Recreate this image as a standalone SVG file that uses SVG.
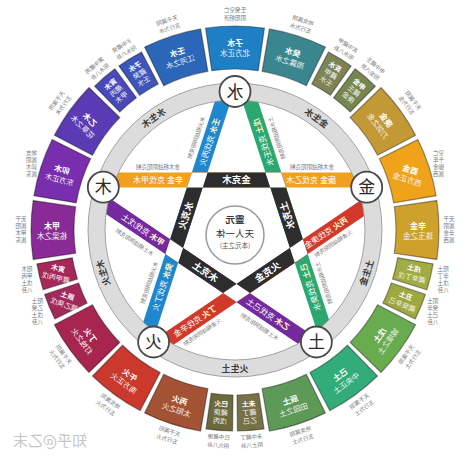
<svg xmlns="http://www.w3.org/2000/svg" width="474" height="459" viewBox="0 0 474 459">
<style>
text{font-family:"Noto Sans CJK SC","Noto Sans",sans-serif;text-anchor:middle}
use{stroke:rgba(0,0,0,.38);stroke-width:1.2}
.st{font-size:8px;font-weight:700;fill:#fff}
.ss{font-size:7.5px;fill:#f3f3f3}
.sm{font-size:7px;fill:#f3f3f3}
.smb{font-size:7px;font-weight:700;fill:#fff}
.an{font-size:5.6px;fill:#7a7a7a}
.bt{font-size:8px;fill:#fff}
.bb{font-weight:700;fill:#fff3c4}
.ba{font-size:5.5px;fill:#777}
.kt{font-size:9.5px;font-weight:700;fill:#fff}
.rl{font-size:9px;font-weight:700;fill:#3c3c3c}
.nd{font-size:17px;fill:#2a2a2a}
.band{stroke-width:15;fill:none}
</style>
<defs>
<path id="L" d="M205.54,28.14 A204,204 0 0 1 264.46,28.14 L258.25,70.69 A161,161 0 0 0 211.75,70.69 Z"/>
<path id="S" d="M221.68,29.44 A201,201 0 0 1 248.32,29.44 L245.93,65.36 A165,165 0 0 0 224.07,65.36 Z"/>
</defs>
<rect width="474" height="459" fill="#fff"/>

<g id="segments">
<g id="seg342" transform="rotate(342 235 230)"><use href="#L" fill="#2b66b9"/><g transform="translate(235 47) scale(-1 1)"><text class="st" y="-1">壬水</text><text class="ss" y="9">江河之水</text></g><g transform="translate(235 14) scale(-1 1)"><text class="an" y="-2.3">天干属阳</text><text class="an" y="6">五行为水</text></g></g>
<g id="seg0" transform="rotate(0 235 230)"><use href="#L" fill="#1f7fc4"/><g transform="translate(235 47) scale(-1 1)"><text class="st" y="-1">子水</text><text class="ss" y="9">北方正水</text></g><g transform="translate(235 14) scale(-1 1)"><text class="an" y="-2.3">壬癸空亡</text><text class="an" y="6">阴阳相济</text></g></g>
<g id="seg18" transform="rotate(18 235 230)"><use href="#L" fill="#3a868e"/><g transform="translate(235 47) scale(-1 1)"><text class="st" y="-1">癸水</text><text class="ss" y="9">雨露之水</text></g><g transform="translate(235 14) scale(-1 1)"><text class="an" y="-2.3">地支属阴</text><text class="an" y="6">五行为水</text></g></g>
<g id="seg31" transform="rotate(31.5 235 230)"><use href="#S" fill="#7c8456"/><g transform="translate(235 47) scale(-1 1)"><text class="smb" y="-6">亥水</text><text class="sm" y="2.5">藏甲</text><text class="sm" y="11">壬水</text></g><g transform="translate(235 18) scale(-1 1)"><text class="an" y="-2.3">亥中藏甲</text><text class="an" y="6">阳水八卦</text></g></g>
<g id="seg40" transform="rotate(40.5 235 230)"><use href="#S" fill="#77854f"/><g transform="translate(235 47) scale(-1 1)"><text class="smb" y="-6">申金</text><text class="sm" y="2.5">藏壬</text><text class="sm" y="11">庚金</text></g><g transform="translate(235 18) scale(-1 1)"><text class="an" y="-2.3">申中藏壬</text><text class="an" y="6">阳金八卦</text></g></g>
<g id="seg54" transform="rotate(54 235 230)"><use href="#L" fill="#c29935"/><g transform="translate(235 47) scale(-1 1)"><text class="st" y="-1">庚金</text><text class="ss" y="9">刀剑之金</text></g><g transform="translate(235 14) scale(-1 1)"><text class="an" y="-2.3">天干属阳</text><text class="an" y="6">五行为金</text></g></g>
<g id="seg72" transform="rotate(72 235 230)"><use href="#L" fill="#efa31b"/><g transform="translate(235 47) rotate(-54) scale(-1 1)"><text class="st" y="-1">酉金</text><text class="ss" y="9">西方正金</text></g><g transform="translate(235 16) rotate(-72) scale(-1 1)"><text class="an" y="-9">空亡</text><text class="an" y="-2">千年</text><text class="an" y="5">御金</text><text class="an" y="12">属西</text></g></g>
<g id="seg90" transform="rotate(90 235 230)"><use href="#L" fill="#cea12c"/><g transform="translate(235 47) rotate(-90) scale(-1 1)"><text class="st" y="-1">辛金</text><text class="ss" y="9">珠玉之金</text></g><g transform="translate(235 16) rotate(-90) scale(-1 1)"><text class="an" y="-9">天干</text><text class="an" y="-2">属阴</text><text class="an" y="5">辛金</text><text class="an" y="12">属西</text></g></g>
<g id="seg103" transform="rotate(103.5 235 230)"><use href="#S" fill="#a1ac44"/><g transform="translate(235 47) rotate(-90) scale(-1 1)"><text class="smb" y="-2">戌土</text><text class="sm" y="7.5">藏辛丁戊</text></g><g transform="translate(235 16) rotate(-103.5) scale(-1 1)"><text class="an" y="-9">阳土</text><text class="an" y="-2">辛丁</text><text class="an" y="5">戊土</text><text class="an" y="12">八卦</text></g></g>
<g id="seg112" transform="rotate(112.5 235 230)"><use href="#S" fill="#9da83f"/><g transform="translate(235 47) rotate(-90) scale(-1 1)"><text class="smb" y="-2">丑土</text><text class="sm" y="7.5">藏癸辛己</text></g><g transform="translate(235 16) rotate(-112.5) scale(-1 1)"><text class="an" y="-9">阴土</text><text class="an" y="-2">癸辛</text><text class="an" y="5">己土</text><text class="an" y="12">八卦</text></g></g>
<g id="seg126" transform="rotate(126 235 230)"><use href="#L" fill="#69ab4f"/><g transform="translate(235 47) rotate(-180) scale(-1 1)"><text class="st" y="-1">戊土</text><text class="ss" y="9">城墙之土</text></g><g transform="translate(235 14) rotate(-180) scale(-1 1)"><text class="an" y="-2.3">天干属阳</text><text class="an" y="6">五行为土</text></g></g>
<g id="seg144" transform="rotate(144 235 230)"><use href="#L" fill="#32ad7a"/><g transform="translate(235 47) rotate(-180) scale(-1 1)"><text class="st" y="-1">己土</text><text class="ss" y="9">中央正土</text></g><g transform="translate(235 14) rotate(-180) scale(-1 1)"><text class="an" y="-2.3">天干属阴</text><text class="an" y="6">五行为土</text></g></g>
<g id="seg162" transform="rotate(162 235 230)"><use href="#L" fill="#5d9957"/><g transform="translate(235 47) rotate(-180) scale(-1 1)"><text class="st" y="-1">辰土</text><text class="ss" y="9">田园之土</text></g><g transform="translate(235 14) rotate(-180) scale(-1 1)"><text class="an" y="-2.3">地支属阳</text><text class="an" y="6">五行为土</text></g></g>
<g id="seg175" transform="rotate(175.5 235 230)"><use href="#S" fill="#777148"/><g transform="translate(235 47) rotate(-180) scale(-1 1)"><text class="smb" y="-6">未土</text><text class="sm" y="2.5">藏丁</text><text class="sm" y="11">乙己</text></g><g transform="translate(235 18) rotate(-180) scale(-1 1)"><text class="an" y="-2.3">未中藏丁</text><text class="an" y="6">阴土八卦</text></g></g>
<g id="seg184" transform="rotate(184.5 235 230)"><use href="#S" fill="#6c6a3c"/><g transform="translate(235 47) rotate(-180) scale(-1 1)"><text class="smb" y="-6">巳火</text><text class="sm" y="2.5">藏庚</text><text class="sm" y="11">戊丙</text></g><g transform="translate(235 18) rotate(-180) scale(-1 1)"><text class="an" y="-2.3">巳中藏庚</text><text class="an" y="6">阴火八卦</text></g></g>
<g id="seg198" transform="rotate(198 235 230)"><use href="#L" fill="#a35333"/><g transform="translate(235 47) rotate(-180) scale(-1 1)"><text class="st" y="-1">丙火</text><text class="ss" y="9">太阳之火</text></g><g transform="translate(235 14) rotate(-180) scale(-1 1)"><text class="an" y="-2.3">天干属阳</text><text class="an" y="6">五行为火</text></g></g>
<g id="seg216" transform="rotate(216 235 230)"><use href="#L" fill="#ca392c"/><g transform="translate(235 47) rotate(-180) scale(-1 1)"><text class="st" y="-1">午火</text><text class="ss" y="9">南方正火</text></g><g transform="translate(235 14) rotate(-180) scale(-1 1)"><text class="an" y="-2.3">地支属阳</text><text class="an" y="6">五行为火</text></g></g>
<g id="seg234" transform="rotate(234 235 230)"><use href="#L" fill="#a7254e"/><g transform="translate(235 47) rotate(-180) scale(-1 1)"><text class="st" y="-1">丁火</text><text class="ss" y="9">灯烛之火</text></g><g transform="translate(235 14) rotate(-180) scale(-1 1)"><text class="an" y="-2.3">天干属阴</text><text class="an" y="6">五行为火</text></g></g>
<g id="seg247" transform="rotate(247.5 235 230)"><use href="#S" fill="#a4295b"/><g transform="translate(235 47) rotate(-227.5) scale(-1 1)"><text class="smb" y="-2">辰土</text><text class="sm" y="7.5">藏乙癸戊</text></g><g transform="translate(235 16) rotate(-247.5) scale(-1 1)"><text class="an" y="-9">阳土</text><text class="an" y="-2">乙癸</text><text class="an" y="5">戊土</text><text class="an" y="12">八卦</text></g></g>
<g id="seg256" transform="rotate(256.5 235 230)"><use href="#S" fill="#a62859"/><g transform="translate(235 47) rotate(-243) scale(-1 1)"><text class="smb" y="-2">寅木</text><text class="sm" y="7.5">藏甲丙戊</text></g><g transform="translate(235 16) rotate(-256.5) scale(-1 1)"><text class="an" y="-9">阳木</text><text class="an" y="-2">甲丙</text><text class="an" y="5">戊土</text><text class="an" y="12">八卦</text></g></g>
<g id="seg270" transform="rotate(270 235 230)"><use href="#L" fill="#892a96"/><g transform="translate(235 47) rotate(-270) scale(-1 1)"><text class="st" y="-1">甲木</text><text class="ss" y="9">栋梁之木</text></g><g transform="translate(235 16) rotate(-270) scale(-1 1)"><text class="an" y="-9">天干</text><text class="an" y="-2">属阳</text><text class="an" y="5">甲木</text><text class="an" y="12">属东</text></g></g>
<g id="seg288" transform="rotate(288 235 230)"><use href="#L" fill="#792fad"/><g transform="translate(235 47) rotate(-273) scale(-1 1)"><text class="st" y="-1">卯木</text><text class="ss" y="9">东方正木</text></g><g transform="translate(235 16) rotate(-288) scale(-1 1)"><text class="an" y="-9">地支</text><text class="an" y="-2">属阴</text><text class="an" y="5">卯木</text><text class="an" y="12">属东</text></g></g>
<g id="seg306" transform="rotate(306 235 230)"><use href="#L" fill="#5a3bb4"/><g transform="translate(235 47) rotate(-261) scale(-1 1)"><text class="st" y="-1">乙木</text><text class="ss" y="9">花草之木</text></g><g transform="translate(235 14) scale(-1 1)"><text class="an" y="-2.3">天干属阴</text><text class="an" y="6">五行为木</text></g></g>
<g id="seg319" transform="rotate(319.5 235 230)"><use href="#S" fill="#4949ba"/><g transform="translate(235 47) scale(-1 1)"><text class="smb" y="-6">寅木</text><text class="sm" y="2.5">藏丙</text><text class="sm" y="11">甲木</text></g><g transform="translate(235 18) scale(-1 1)"><text class="an" y="-2.3">寅中藏丙</text><text class="an" y="6">阳木八卦</text></g></g>
<g id="seg328" transform="rotate(328.5 235 230)"><use href="#S" fill="#3e56bb"/><g transform="translate(235 47) scale(-1 1)"><text class="smb" y="-6">子水</text><text class="sm" y="2.5">藏癸</text><text class="sm" y="11">壬水</text></g><g transform="translate(235 18) scale(-1 1)"><text class="an" y="-2.3">子中藏癸</text><text class="an" y="6">阳水八卦</text></g></g>
</g>

<g id="connectors">
<line class="band" x1="226.7" y1="89.3" x2="145.4" y2="339.5" stroke="#1e87cf"/>
<line class="band" x1="246" y1="88.4" x2="327.4" y2="338.9" stroke="#2aa86f"/>
<line class="band" x1="103" y1="180" x2="366" y2="180" stroke="#f0a01e"/>
<line class="band" x1="96.55" y1="198.5" x2="315.1" y2="346.2" stroke="#74299f"/>
<line class="band" x1="371.1" y1="202.2" x2="156.5" y2="347.2" stroke="#d13a2a"/>
<polygon class="band" points="197.3,180 275.7,180 298.8,251 236.5,293 174.2,251" stroke="#2d2d2d" stroke-linejoin="miter"/>
<g fill="#fff">
<polygon points="202.75,187.5 207.62,172.5 191.85,172.5 186.98,187.5"/>
<polygon points="286.02,187.5 281.15,172.5 265.38,172.5 270.25,187.5"/>
<polygon points="178.26,262.79 165.32,254.05 170.15,239.21 183.08,247.95"/>
<polygon points="294.75,262.79 307.67,254.05 302.85,239.21 289.93,247.95"/>
<polygon points="236.5,302.06 249.9,293 236.5,283.94 223.1,293"/>
</g>
<g id="band-labels">
<text class="bt" transform="translate(158 180) scale(-1 1)" y="2.9"><tspan class="bb">辛金</tspan> 克伐甲木</text>
<text class="bt" transform="translate(311 180) scale(-1 1)" y="2.9"><tspan class="bb">庚金</tspan> 克伐乙木</text>
<text class="bt" transform="translate(209.6 142) rotate(-72) scale(-1 1)" y="2.9"><tspan class="bb">壬水</tspan> 克伐丙火</text>
<text class="bt" transform="translate(162.5 287) rotate(-72) scale(-1 1)" y="2.9"><tspan class="bb">癸水</tspan> 克伐丁火</text>
<text class="bt" transform="translate(263.4 142) rotate(-108) scale(-1 1)" y="2.9"><tspan class="bb">戊土</tspan> 克伐壬水</text>
<text class="bt" transform="translate(310.5 287) rotate(-108) scale(-1 1)" y="2.9"><tspan class="bb">己土</tspan> 克伐癸水</text>
<text class="bt" transform="translate(143 229.9) rotate(34) scale(-1 1)" y="2.9"><tspan class="bb">甲木</tspan> 克伐戊土</text>
<text class="bt" transform="translate(268 314.4) rotate(34) scale(-1 1)" y="2.9"><tspan class="bb">乙木</tspan> 克伐己土</text>
<text class="bt" transform="translate(326 232.7) rotate(-34) scale(-1 1)" y="2.9"><tspan class="bb">丙火</tspan> 克伐庚金</text>
<text class="bt" transform="translate(195 321.2) rotate(-34) scale(-1 1)" y="2.9"><tspan class="bb">丁火</tspan> 克伐辛金</text>
<text class="ba" transform="translate(158 167) scale(-1 1)" y="2">金木相战阴阳克制</text>
<text class="ba" transform="translate(312 167) scale(-1 1)" y="2">金木相战阴阳克制</text>
<text class="ba" transform="translate(196.3 137.7) rotate(-72) scale(-1 1)" y="2">水火相战阴阳克制</text>
<text class="ba" transform="translate(149.2 282.7) rotate(-72) scale(-1 1)" y="2">水火相战阴阳克制</text>
<text class="ba" transform="translate(276.7 137.7) rotate(-108) scale(-1 1)" y="2">土水相战阴阳克制</text>
<text class="ba" transform="translate(323.8 282.7) rotate(-108) scale(-1 1)" y="2">土水相战阴阳克制</text>
<text class="ba" transform="translate(134.6 242.3) rotate(34) scale(-1 1)" y="2">木土相战阴阳克制</text>
<text class="ba" transform="translate(259.6 326.8) rotate(34) scale(-1 1)" y="2">木土相战阴阳克制</text>
<text class="ba" transform="translate(333.3 243.5) rotate(-34) scale(-1 1)" y="2">火金相战阴阳克制</text>
<text class="ba" transform="translate(202.3 332) rotate(-34) scale(-1 1)" y="2">火金相战阴阳克制</text>
<text class="kt" transform="translate(236.5 180) scale(-1 1)" y="3.4">金克木</text>
<text class="kt" transform="translate(287.25 215.5) rotate(-108) scale(-1 1)" y="3.4">土克水</text>
<text class="kt" transform="translate(267.65 272) rotate(-34) scale(-1 1)" y="3.4">火克金</text>
<text class="kt" transform="translate(205.35 272) rotate(34) scale(-1 1)" y="3.4">木克土</text>
<text class="kt" transform="translate(185.75 215.5) rotate(-72) scale(-1 1)" y="3.4">水克火</text>
</g>
</g>

<g id="ring">
<circle cx="235" cy="230" r="138.5" fill="none" stroke="#dcdcdc" stroke-width="17"/>
<circle cx="235" cy="230" r="147" fill="none" stroke="#9a9a9a" stroke-width="0.9"/>
<circle cx="235" cy="230" r="130" fill="none" stroke="#9a9a9a" stroke-width="0.9"/>
<text class="rl" transform="translate(153.6 117.95) rotate(-36) scale(-1 1)" y="3.2">水生木</text>
<text class="rl" transform="translate(316.4 117.95) rotate(36) scale(-1 1)" y="3.2">金生水</text>
<text class="rl" transform="translate(366.7 272.8) rotate(-72) scale(-1 1)" y="3.2">土生金</text>
<text class="rl" transform="translate(235 368.5) scale(-1 1)" y="3.2">火生土</text>
<text class="rl" transform="translate(103.3 272.8) rotate(-108) scale(-1 1)" y="3.2">木生火</text>
</g>

<g id="node-water"><circle cx="235" cy="91.5" r="15.5" fill="#fff" stroke="#4a4a4a" stroke-width="1.8"/><text class="nd" transform="translate(235 91.5) scale(-1 1)" y="6">水</text></g>
<g id="node-metal"><circle cx="366.7" cy="187.2" r="15.5" fill="#fff" stroke="#4a4a4a" stroke-width="1.8"/><text class="nd" transform="translate(366.7 187.2) scale(-1 1)" y="6">金</text></g>
<g id="node-earth"><circle cx="316.4" cy="342" r="15.5" fill="#fff" stroke="#4a4a4a" stroke-width="1.8"/><text class="nd" transform="translate(316.4 342) scale(-1 1)" y="6">土</text></g>
<g id="node-fire"><circle cx="153.6" cy="342" r="15.5" fill="#fff" stroke="#4a4a4a" stroke-width="1.8"/><text class="nd" transform="translate(153.6 342) scale(-1 1)" y="6">火</text></g>
<g id="node-wood"><circle cx="103.3" cy="187.2" r="15.5" fill="#fff" stroke="#4a4a4a" stroke-width="1.8"/><text class="nd" transform="translate(103.3 187.2) scale(-1 1)" y="6">木</text></g>

<g id="node-center">
<circle cx="235" cy="235" r="29" fill="#fff" stroke="#9a9a9a" stroke-width="1.5"/>
<g transform="translate(235 235) scale(-1 1)">
<text y="-12.5" font-size="9.5" font-weight="700" fill="#333">靈元</text>
<text y="1.5" font-size="9.5" fill="#333">天人一体</text>
<text y="12.5" font-size="6.5" fill="#555">(本元之主)</text>
</g>
</g>

<text transform="translate(50 446) scale(-1 1)" font-size="15" fill="#c6c6c6">知乎@乙末</text>
</svg>
